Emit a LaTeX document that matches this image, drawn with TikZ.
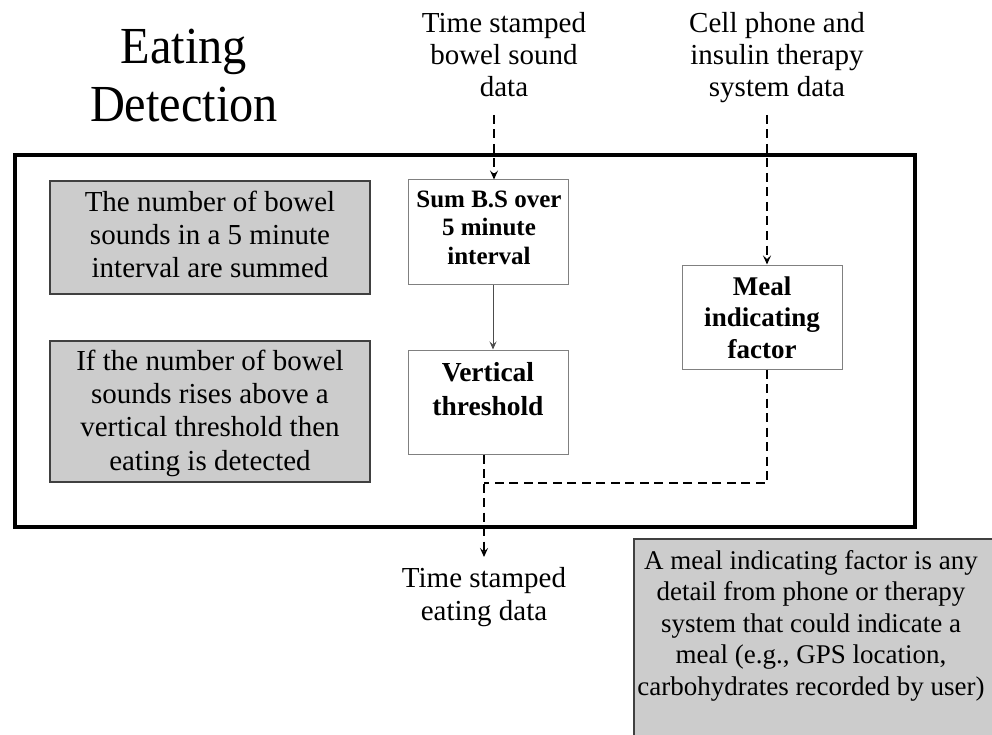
\documentclass[tikz,border=0pt]{standalone}
\usepackage{fontspec}
\setmainfont{Liberation Serif}
\newfontfamily\titlefont[FakeStretch=0.93]{Liberation Serif}
\usetikzlibrary{arrows.meta}
\definecolor{boxgray}{RGB}{204,204,204}
\definecolor{edgegray}{RGB}{128,128,128}
\definecolor{notegray}{RGB}{64,64,64}

% text nodes are placed by the baseline of their last line
\tikzset{
  panel/.style={draw=black, line width=4.5pt, inner sep=0pt},
  notebox/.style={draw=notegray, line width=1.2pt, fill=boxgray, inner sep=0pt},
  stepbox/.style={draw=edgegray, line width=1pt, fill=white, inner sep=0pt},
  plain/.style={inner sep=0pt, align=center, anchor=base},
  flow/.style={line width=2.2pt, dash pattern=on 9pt off 5.5pt},
  feed/.style={draw=black!70, line width=1pt},
  tip/.style={-{Stealth[length=9pt,width=8pt,inset=3.5pt]}},
  smalltip/.style={-{Stealth[length=8pt,width=7pt,inset=3pt]}},
}

\begin{document}
\begin{tikzpicture}[x=1pt,y=-1pt]
\useasboundingbox (0,0) rectangle (992,735);
\clip (0,0) rectangle (992,735);

% title
\node[plain, font=\titlefont\fontsize{52}{58}\selectfont] (title) at (184,122) {Eating\\Detection};

% outer frame of the detection stage
\node[panel, minimum width=900pt, minimum height=372pt] (frame) at (465,341) {};

% explanation boxes
\node[notebox, minimum width=320pt, minimum height=113pt] (g1) at (210,237.5) {};
\node[plain, font=\fontsize{29}{33}\selectfont] (g1t) at (210,277)
  {The number of bowel\\sounds in a 5 minute\\interval are summed};
\node[notebox, minimum width=320pt, minimum height=141pt] (g2) at (210,411.5) {};
\node[plain, font=\fontsize{29}{33.3}\selectfont] (g2t) at (210,470)
  {If the number of bowel\\sounds rises above a\\vertical threshold then\\eating is detected};

% processing steps
\node[stepbox, minimum width=160pt, minimum height=104pt] (sum) at (488,232) {};
\node[plain, font=\bfseries\fontsize{25}{28.5}\selectfont] (sumt) at (489,264)
  {Sum B.S over\\5 minute\\interval};
\node[stepbox, minimum width=160pt, minimum height=104pt] (vth) at (488,402) {};
\node[plain, font=\bfseries\fontsize{27.5}{34}\selectfont] (vtht) at (488,415)
  {Vertical\\threshold};
\node[stepbox, minimum width=160pt, minimum height=104pt] (meal) at (762,317) {};
\node[plain, font=\bfseries\fontsize{27}{31.5}\selectfont] (mealt) at (762,358)
  {Meal\\indicating\\factor};

% inputs and output
\node[plain, font=\fontsize{29}{32}\selectfont] (src1) at (504,97)
  {Time stamped\\bowel sound\\data};
\node[plain, font=\fontsize{29}{32}\selectfont] (src2) at (777,97)
  {Cell phone and\\insulin therapy\\system data};
\node[plain, font=\fontsize{29}{33}\selectfont] (res) at (484,620)
  {Time stamped\\eating data};

% note on meal indicating factors
\node[notebox, minimum width=370pt, minimum height=221pt] (note) at (819,649.5) {};
\node[plain, font=\fontsize{27}{31.5}\selectfont] (notet) at (811,695)
  {A meal indicating factor is any\\detail from phone or therapy\\system that could indicate a\\meal (e.g., GPS location,\\carbohydrates recorded by user)};

% connectors
\coordinate (in1) at (494,115);
\coordinate (in2) at (767,115);
\coordinate (join) at (484,483);
\coordinate (out) at (484,557);

\draw[flow, tip] (in1) -- (in1 |- sum.north);
\draw[flow, tip] (in2) -- (in2 |- meal.north);
\draw[feed, smalltip] ([xshift=5pt]sum.south) -- ([xshift=5pt]vth.north);
\draw[flow, tip] ([xshift=-4pt]vth.south) -- (out);
\draw[flow] ([xshift=5pt]meal.south) |- (join);
\end{tikzpicture}
\end{document}
